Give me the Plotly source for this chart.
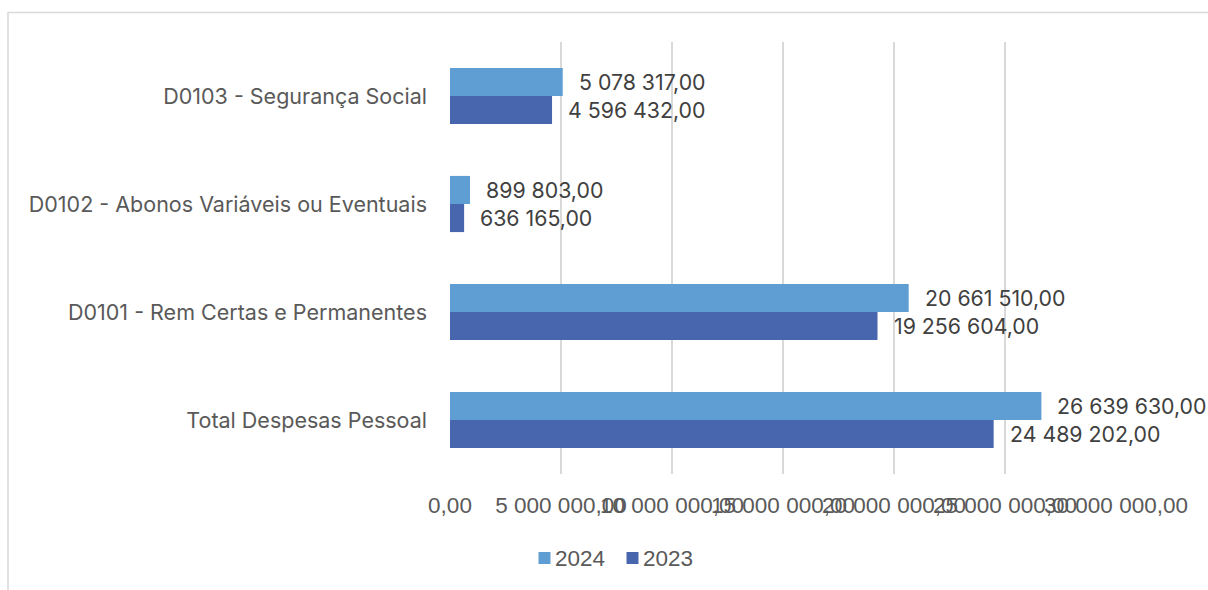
import plotly.graph_objects as go

# Despesas com pessoal por rubrica (EUR)
categories = [
    "Total Despesas Pessoal",
    "D0101 - Rem Certas e Permanentes",
    "D0102 - Abonos Variáveis ou Eventuais",
    "D0103 - Segurança Social",
]
values_2024 = [26639630.00, 20661510.00, 899803.00, 5078317.00]
values_2023 = [24489202.00, 19256604.00, 636165.00, 4596432.00]
tick_values = [0, 5000000, 10000000, 15000000, 20000000, 25000000, 30000000]

COLOR_2024 = "#5E9ED3"
COLOR_2023 = "#4866AE"
FONT = "Inter"
AXIS_FONT = "Liberation Sans"


def pt_number(v):
    """Format as 1 234 567,00."""
    s = f"{v:,.2f}"
    return s.replace(",", " ").replace(".", ",")


fig = go.Figure()
# 2023 first so it sits at the bottom of each group
fig.add_trace(go.Bar(y=categories, x=values_2023, orientation="h",
                     name="2023", marker=dict(color=COLOR_2023, line=dict(width=0))))
fig.add_trace(go.Bar(y=categories, x=values_2024, orientation="h",
                     name="2024", marker=dict(color=COLOR_2024, line=dict(width=0))))

annotations = []
for cat, v24, v23 in zip(categories, values_2024, values_2023):
    annotations.append(dict(x=v24, y=cat, xref="x", yref="y", text=pt_number(v24),
                            showarrow=False, xanchor="left", xshift=14, yshift=14,
                            font=dict(family=FONT, size=21.3, color="#404040")))
    annotations.append(dict(x=v23, y=cat, xref="x", yref="y", text=pt_number(v23),
                            showarrow=False, xanchor="left", xshift=14, yshift=-14,
                            font=dict(family=FONT, size=21.3, color="#404040")))

# legend drawn as small squares with labels
W, L, T, H = 666.0, 450.0, 42.0, 432.0


def px(xp):
    return (xp - L) / W


def py(yp):
    return (T + H - yp) / H


shapes = [
    dict(type="rect", xref="paper", yref="paper", x0=px(8), x1=px(1400), y0=py(800), y1=py(12.5),
         line=dict(color="#D9D9D9", width=1.5), fillcolor="rgba(0,0,0,0)", layer="below"),
]
for x0, col, label in [(538.5, COLOR_2024, "2024"), (626.5, COLOR_2023, "2023")]:
    shapes.append(dict(type="rect", xref="paper", yref="paper", x0=px(x0), x1=px(x0 + 12),
                       y0=py(564), y1=py(552), line=dict(width=0), fillcolor=col))
    annotations.append(dict(x=px(x0 + 16), y=py(558), xref="paper", yref="paper", text=label,
                            showarrow=False, xanchor="left", yanchor="middle", xshift=-2,
                            font=dict(family=AXIS_FONT, size=22.5, color="#595959")))

fig.update_layout(
    width=1208, height=590,
    margin=dict(l=450, r=92, t=42, b=116),
    paper_bgcolor="white", plot_bgcolor="white",
    barmode="group", bargap=0.48, bargroupgap=0,
    showlegend=False,
    separators=", ",
    font=dict(family=FONT, size=19, color="#595959"),
    annotations=annotations,
    shapes=shapes,
)
fig.update_xaxes(range=[0, 30000000], tickvals=tick_values, tickformat=",.2f",
                 tickangle=0, showgrid=True, gridcolor="#D9D9D9", gridwidth=1.5,
                 zeroline=False, showline=False, ticks="", ticklabelstandoff=15,
                 tickfont=dict(family=AXIS_FONT, size=22.5, color="#595959"), fixedrange=True)
fig.update_yaxes(showgrid=False, zeroline=False, showline=False, ticks="",
                 ticklabelstandoff=22,
                 tickfont=dict(family=FONT, size=21.5, color="#595959"), fixedrange=True)

fig.write_html("out.html")
